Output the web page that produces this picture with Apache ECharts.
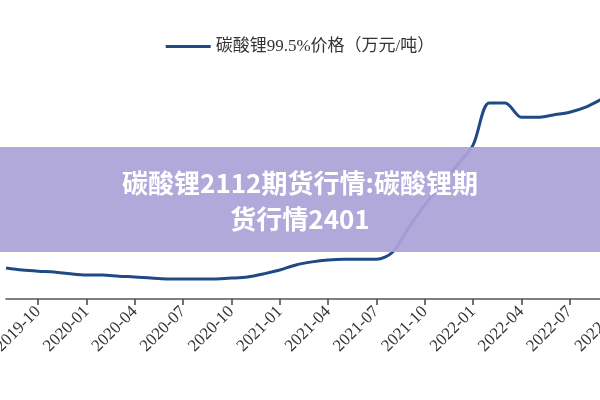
<!DOCTYPE html><html><head><meta charset="utf-8"><script src="https://cdn.jsdelivr.net/npm/echarts@6/dist/echarts.min.js"></script></head><body style="margin:0"><div id="c" style="width:600px;height:400px"></div><script>
const months=['2019-08','2019-09','2019-10','2019-11','2019-12','2020-01','2020-02','2020-03','2020-04','2020-05','2020-06','2020-07','2020-08','2020-09','2020-10','2020-11','2020-12','2021-01','2021-02','2021-03','2021-04','2021-05','2021-06','2021-07','2021-08','2021-09','2021-10','2021-11','2021-12','2022-01','2022-02','2022-03','2022-04','2022-05','2022-06','2022-07','2022-08','2022-09','2022-10'];
const price=[8.0,7.5,7.2,7.0,6.5,6.2,6.2,5.9,5.7,5.4,5.2,5.2,5.2,5.2,5.4,5.7,6.5,7.5,8.8,9.6,10.1,10.3,10.3,10.3,12.1,18.4,24.3,29.5,34.6,39.8,50.7,50.7,47.0,47.0,47.6,48.3,49.6,51.7,54.0];
const showM=m=>['01','04','07','10'].includes(m.slice(5));
const c=echarts.init(document.getElementById('c'));
c.setOption({
 animation:false,
 legend:{top:33,left:'center',itemWidth:45,itemHeight:3,textStyle:{fontFamily:'Liberation Serif, Noto Sans CJK SC',fontSize:17,color:'#333'},icon:'rect'},
 grid:{left:6,right:-18,top:60,bottom:101,outerBoundsMode:'none',containLabel:false},
 xAxis:{type:'category',data:months,boundaryGap:false,
  axisLine:{lineStyle:{color:'#555',width:1.5}},
  axisTick:{interval:(i,v)=>showM(v),length:6,lineStyle:{color:'#444',width:1.5}},
  axisLabel:{interval:(i,v)=>showM(v),rotate:45,fontFamily:'Liberation Serif',fontSize:17,color:'#333',margin:10}},
 yAxis:{type:'value',min:0,max:61.8,show:false},
 series:[{name:'碳酸锂99.5%价格（万元/吨）',type:'line',data:price,showSymbol:false,smooth:0.3,lineStyle:{color:'#1f4a85',width:3},itemStyle:{color:'#1f4a85'}}],
 graphic:[{type:'rect',shape:{x:0,y:147,width:600,height:105},style:{fill:'rgba(172,163,216,0.93)'},z:100},
  {type:'text',x:300,y:183,style:{text:'碳酸锂2112期货行情:碳酸锂期',fill:'#fff',font:'bold 26px "Noto Sans CJK SC"',align:'center',verticalAlign:'middle'},z:101},
  {type:'text',x:300,y:219,style:{text:'货行情2401',fill:'#fff',font:'bold 26px "Noto Sans CJK SC"',align:'center',verticalAlign:'middle'},z:101}]
});
</script></body></html>
